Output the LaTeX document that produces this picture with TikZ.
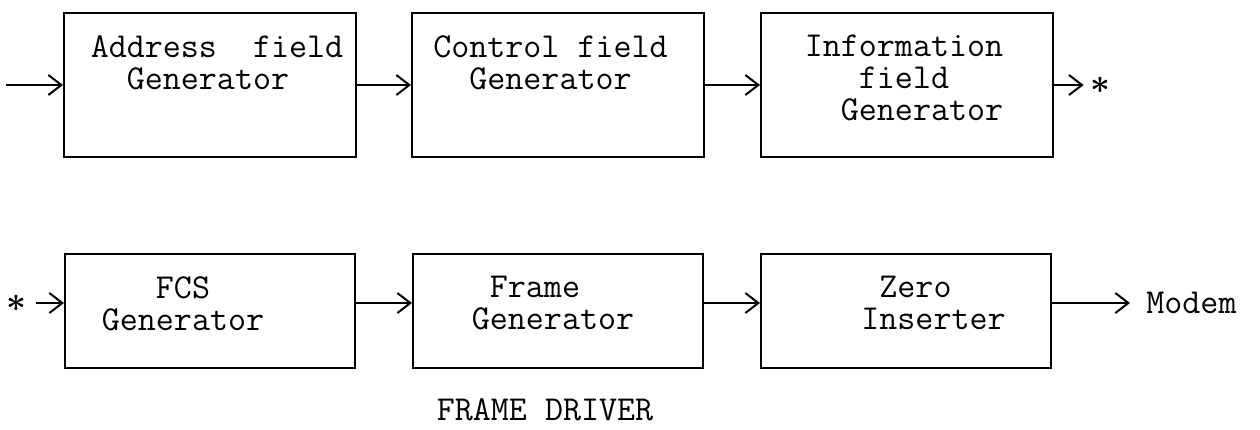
\documentclass[tikz,border=0pt]{standalone}
\usepackage{tikz}
\usetikzlibrary{arrows.meta, positioning}

\begin{document}
\begin{tikzpicture}[
    x=0.5pt, y=-0.5pt,
    box/.style={rectangle, draw, line width=1pt, minimum width=146pt, inner sep=0pt},
    tallbox/.style={box, minimum height=72pt},
    flatbox/.style={box, minimum width=145pt, minimum height=57pt},
    boxtext/.style={align=left, inner sep=0pt, font=\ttfamily\fontsize{17.5}{16}\selectfont},
    starmark/.style={inner sep=3pt, font=\fontsize{17.5}{17.5}\selectfont\boldmath},
    arrow/.style={-{Straight Barb[length=6.5pt, width=10pt, line width=1pt]}, line width=0.9pt}
]
    \useasboundingbox (0,0) rectangle (1260,429);

    % First row: field generators
    \node[tallbox] (addr) at (210,85) {};
    \node[tallbox, right=27pt of addr] (ctrl) {};
    \node[tallbox, right=27.5pt of ctrl] (info) {};

    \node[boxtext, below=11.5pt of addr.north, xshift=3.5pt] (addrtext) {Address\ \ field\\\phantom{xx}Generator};
    \node[boxtext, below=11.5pt of ctrl.north, xshift=-3.75pt] (ctrltext) {Control field\\\phantom{xx}Generator};
    \node[boxtext, below=11.5pt of info.north, xshift=-1.5pt] (infotext) {Information\\\phantom{xxx}field\\\phantom{xx}Generator};

    % Second row: FCS, framing, zero insertion
    \node[flatbox] (fcs) at (210,311) {};
    \node[flatbox, right=28pt of fcs] (frame) {};
    \node[flatbox, right=28pt of frame] (zero) {};

    \node[boxtext, below=11.5pt of fcs.north, xshift=-13.5pt] (fcstext) {\phantom{xxx}FCS\\Generator};
    \node[boxtext, below=11.5pt of frame.north, xshift=-2.5pt] (frametext) {\phantom{x}Frame\\Generator};
    \node[boxtext, below=11.5pt of zero.north, xshift=13.75pt] (zerotext) {\phantom{x}Zero\\Inserter};

    % Ends of the chain
    \coordinate (in) at (6,85);
    \node[starmark] (outstar) at (1100,85) {$\ast$};
    \node[starmark, inner sep=5pt] (instar) at (16,303) {$\ast$};
    \node[boxtext, anchor=west] (modem) at (1146,303) {Modem};

    \node[boxtext, align=center] (title) at (545,410) {FRAME DRIVER};

    % Connect components
    \draw[arrow] (in) -- (addr);
    \draw[arrow] (addr) -- (ctrl);
    \draw[arrow] (ctrl) -- (info);
    \draw[arrow] (info) -- (outstar);

    \draw[arrow] (instar) -- ([yshift=4pt]fcs.west);
    \draw[arrow] ([yshift=4pt]fcs.east) -- ([yshift=4pt]frame.west);
    \draw[arrow] ([yshift=4pt]frame.east) -- ([yshift=4pt]zero.west);
    \draw[arrow, shorten >=8pt] ([yshift=4pt]zero.east) -- (modem.west);

\end{tikzpicture}
\end{document}
